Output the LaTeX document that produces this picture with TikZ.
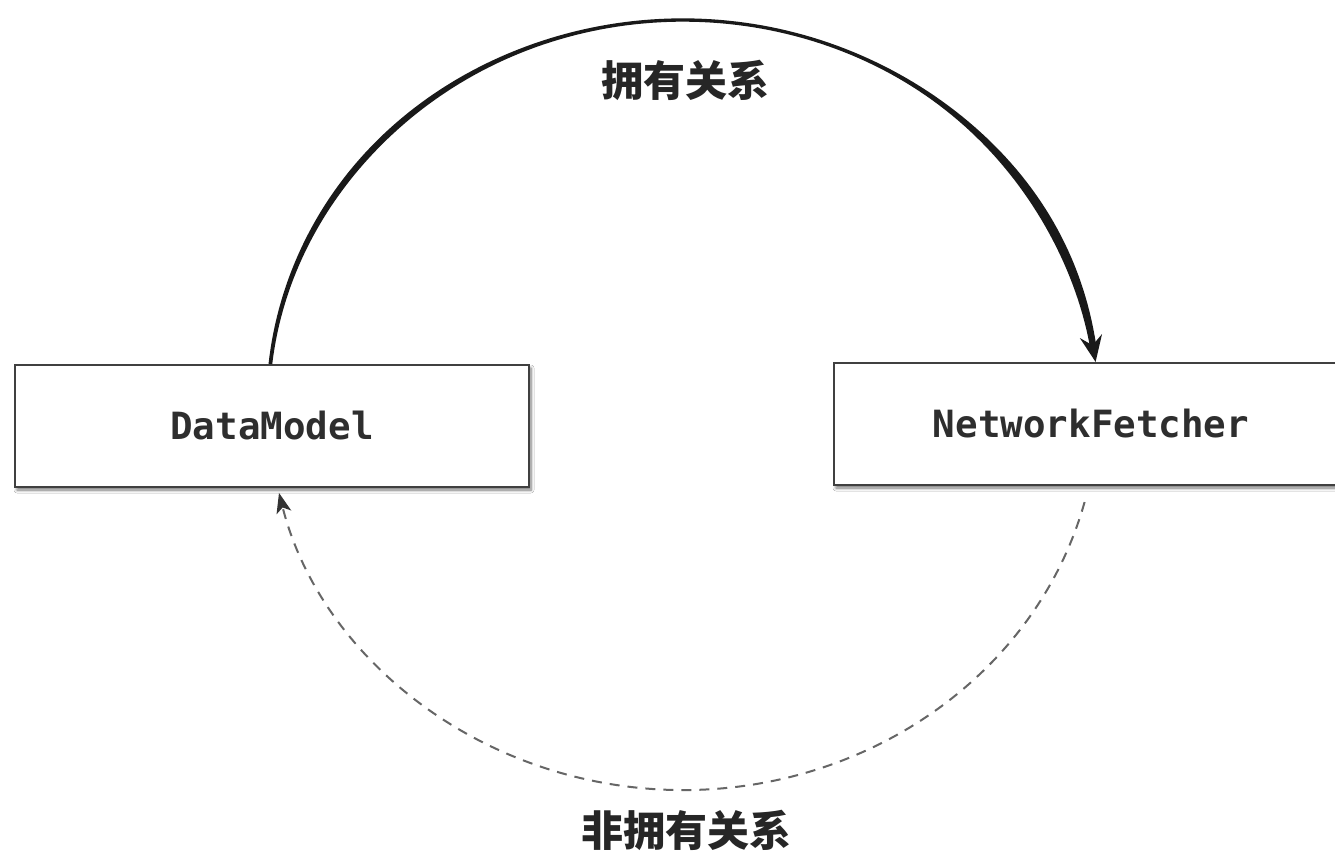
\documentclass[tikz,border=0pt]{standalone}
\usepackage{fontspec}
\newfontfamily\cjk{Noto Sans CJK SC}
\newfontfamily\codefont{DejaVu Sans Mono}
\usetikzlibrary{arrows.meta,shadows.blur,calc}

\begin{document}
\begin{tikzpicture}[x=1pt,y=-1pt,
  % stroke width of the brushed ownership arc, by angle on the ellipse
  declare function={wd(\q)=3.3+3*exp(-min(9,((\q-140)/24)^2))+6*exp(-min(9,((\q-27)/22)^2));},
  classbox/.style={draw=black!75, line width=2pt, fill=white,
    minimum width=514pt, minimum height=122pt, inner sep=0pt,
    font=\codefont\bfseries\fontsize{37.5}{42}\selectfont, text=black!82,
    blur shadow={shadow xshift=2pt, shadow yshift=-3pt,
      shadow blur steps=6, shadow blur radius=3pt, shadow opacity=55}},
  relabel/.style={font=\cjk\bfseries\fontsize{42}{46}\selectfont,
    text=black!85, inner sep=0pt},
  ownink/.style={black!90},
  weaklink/.style={draw=black!60, line width=2pt,
    dash pattern=on 10pt off 8pt,
    -{Stealth[length=20pt,width=15pt,inset=5pt,black!80]}},
]
\useasboundingbox (0,0) rectangle (1335,853);
\path[clip] (0,0) rectangle (1335,853);
\fill[white] (0,0) rectangle (1335,853);

% the two classes
\node[classbox] (DM) at (272,426) {DataModel};
\node[classbox] (NF) at (1091,424) {NetworkFetcher};

% centre of the ring on which both relations run
\coordinate (ctr) at (683,405);

% owning relation: brushed arc over the top, DataModel -> NetworkFetcher
\fill[ownink]
  plot[variable=\q, domain=173.9:9, samples=140]
    ({683+(415+0.5*wd(\q))*cos(\q)},{405-(385+0.5*wd(\q))*sin(\q)})
  -- plot[variable=\q, domain=9:173.9, samples=140]
    ({683+(415-0.5*wd(\q))*cos(\q)},{405-(385-0.5*wd(\q))*sin(\q)})
  -- cycle;
\draw[ownink, line width=5pt, -{Stealth[length=26pt,width=22pt,inset=9pt]}]
  ($(ctr)+(-12:415 and 385)$) -- ([xshift=4.6pt]NF.north);

% non-owning relation: dashed arc underneath, NetworkFetcher -> DataModel
\draw[weaklink] ($(ctr)+(14.6:415 and 385)$)
  arc[start angle=14.6, end angle=166.8, x radius=415, y radius=385];

% relation labels
\node[relabel] (own) at (685,80) {拥有关系};
\node[relabel] (notown) at (686,830) {非拥有关系};
\end{tikzpicture}
\end{document}
